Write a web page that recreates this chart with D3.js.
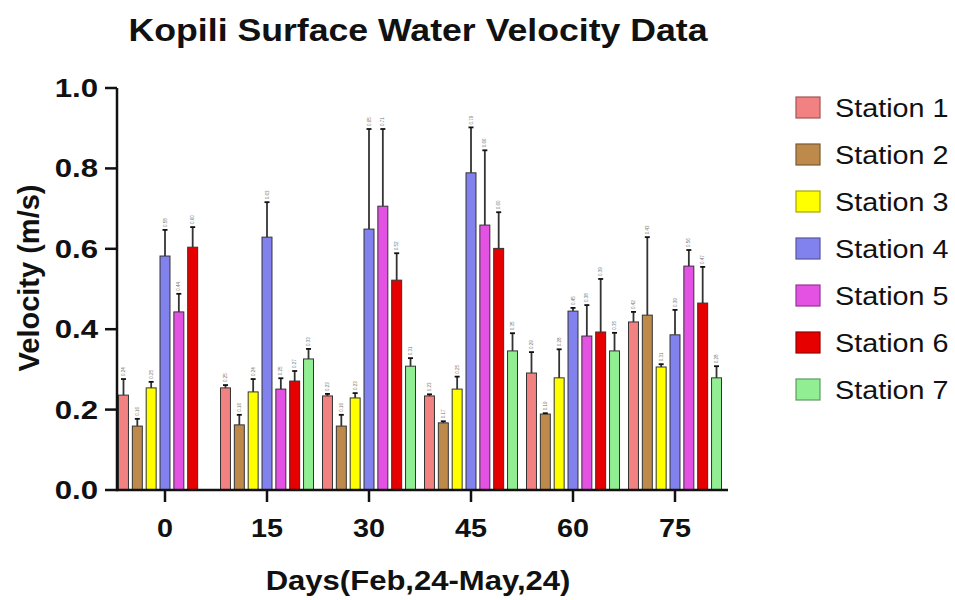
<!DOCTYPE html>
<html>
<head>
<meta charset="utf-8">
<script src="https://cdn.jsdelivr.net/npm/d3@7"></script>
<style>
  body { margin: 0; background: #fff; }
  svg text { font-family: "Liberation Sans", Arial, sans-serif; }
</style>
</head>
<body>
<div id="chart"></div>
<script>
// data (mean velocity + upper error, m/s)
const days = ["0", "15", "30", "45", "60", "75"];
const stations = ["Station 1", "Station 2", "Station 3", "Station 4", "Station 5", "Station 6", "Station 7"];
const station_colors = ["#f28282", "#bd8a4c", "#ffff00", "#8282ee", "#e452e4", "#e60000", "#92ee92"];

const means = [
  [0.236, 0.254, 0.234, 0.234, 0.291, 0.418],
  [0.159, 0.162, 0.159, 0.167, 0.189, 0.435],
  [0.254, 0.244, 0.229, 0.251, 0.279, 0.306],
  [0.582, 0.629, 0.649, 0.789, 0.445, 0.386],
  [0.443, 0.251, 0.706, 0.659, 0.383, 0.557],
  [0.604, 0.271, 0.522, 0.601, 0.393, 0.465],
  [null, 0.326, 0.308, 0.346, 0.346, 0.279],
];
const errs = [
  [0.040, 0.007, 0.005, 0.004, 0.052, 0.025],
  [0.018, 0.025, 0.028, 0.004, 0.002, 0.194],
  [0.015, 0.032, 0.012, 0.031, 0.071, 0.007],
  [0.065, 0.087, 0.249, 0.113, 0.008, 0.062],
  [0.045, 0.027, 0.192, 0.186, 0.077, 0.040],
  [0.050, 0.025, 0.067, 0.090, 0.132, 0.090],
  [null, 0.025, 0.020, 0.044, 0.045, 0.029],
];
const y_ticks = [0, 0.2, 0.4, 0.6, 0.8, 1.0];

let opts = {
  width: 955,
  height: 600,
  axis_left: 117,
  axis_right: 728,
  y_top: 88,
  y_bottom: 490,
  stretch: 1.15, // reference text looks a bit wide
};

// flatten into one row per bar
let bar_data = [];
stations.forEach((s, si) => {
  days.forEach((d, di) => {
    if (means[si][di] != null) {
      bar_data.push({ station: s, si: si, day: d, mean: means[si][di], err: errs[si][di] });
    }
  });
});

let svg = d3
  .select("#chart")
  .append("svg")
  .attr("width", opts.width)
  .attr("height", opts.height);

let x = d3.scaleBand().domain(days).range([114, 726]).padding(0);
let x_inner = d3
  .scaleBand()
  .domain(stations)
  .range([4.5, x.bandwidth() - 4.5])
  .paddingInner(0.28);
let y = d3.scaleLinear().domain([0, 1]).range([opts.y_bottom, opts.y_top]);

function wide(px, py, sx) {
  return `translate(${px},${py}) scale(${sx || opts.stretch},1)`;
}

// title
svg
  .append("text")
  .attr("transform", wide(418, 41))
  .attr("text-anchor", "middle")
  .attr("font-size", 31)
  .attr("font-weight", "bold")
  .attr("fill", "#111")
  .text("Kopili Surface Water Velocity Data");

// bars
svg
  .selectAll(".bar")
  .data(bar_data)
  .join("rect")
  .attr("class", "bar")
  .attr("x", (d) => x(d.day) + x_inner(d.station))
  .attr("y", (d) => y(d.mean))
  .attr("width", x_inner.bandwidth())
  .attr("height", (d) => y(0) - y(d.mean))
  .attr("fill", (d) => station_colors[d.si])
  .attr("stroke", "#333")
  .attr("stroke-width", 1);

// error bars (upper only)
let eb = svg.selectAll(".err").data(bar_data).join("g").attr("class", "err");
eb.append("line")
  .attr("x1", (d) => x(d.day) + x_inner(d.station) + x_inner.bandwidth() / 2)
  .attr("x2", (d) => x(d.day) + x_inner(d.station) + x_inner.bandwidth() / 2)
  .attr("y1", (d) => y(d.mean))
  .attr("y2", (d) => y(d.mean + d.err))
  .attr("stroke", "#333")
  .attr("stroke-width", 1.8);
eb.append("line")
  .attr("x1", (d) => x(d.day) + x_inner(d.station) + x_inner.bandwidth() / 2 - 2.5)
  .attr("x2", (d) => x(d.day) + x_inner(d.station) + x_inner.bandwidth() / 2 + 2.5)
  .attr("y1", (d) => y(d.mean + d.err))
  .attr("y2", (d) => y(d.mean + d.err))
  .attr("stroke", "#111")
  .attr("stroke-width", 1.8);

// tiny value labels
svg
  .selectAll(".vlab")
  .data(bar_data)
  .join("text")
  .attr("class", "vlab")
  .attr("transform", (d) => {
    let cx = x(d.day) + x_inner(d.station) + x_inner.bandwidth() / 2 + 1.5;
    let cy = y(d.mean + d.err) - 3;
    return `translate(${cx},${cy}) rotate(-90)`;
  })
  .attr("font-size", 4.5)
  .attr("fill", "#777")
  .text((d) => d.mean.toFixed(2));

// axes
let x_axis = svg.append("g");
x_axis
  .append("line")
  .attr("x1", opts.axis_left)
  .attr("x2", opts.axis_right)
  .attr("y1", y(0))
  .attr("y2", y(0))
  .attr("stroke", "#111")
  .attr("stroke-width", 2.5);
x_axis
  .selectAll(".xtick")
  .data(days)
  .join("line")
  .attr("x1", (d) => x(d) + x.bandwidth() / 2)
  .attr("x2", (d) => x(d) + x.bandwidth() / 2)
  .attr("y1", y(0))
  .attr("y2", y(0) + 12)
  .attr("stroke", "#111")
  .attr("stroke-width", 2.5);
x_axis
  .selectAll(".xlab")
  .data(days)
  .join("text")
  .attr("transform", (d) => wide(x(d) + x.bandwidth() / 2, 537))
  .attr("text-anchor", "middle")
  .attr("font-size", 25)
  .attr("font-weight", "bold")
  .attr("fill", "#111")
  .text((d) => d);

let y_axis = svg.append("g");
y_axis
  .append("line")
  .attr("x1", opts.axis_left)
  .attr("x2", opts.axis_left)
  .attr("y1", y(0) + 1.25)
  .attr("y2", y(1))
  .attr("stroke", "#111")
  .attr("stroke-width", 2.5);
y_axis
  .selectAll(".ytick")
  .data(y_ticks)
  .join("line")
  .attr("x1", opts.axis_left - 12)
  .attr("x2", opts.axis_left)
  .attr("y1", (d) => y(d))
  .attr("y2", (d) => y(d))
  .attr("stroke", "#111")
  .attr("stroke-width", 2.5);
y_axis
  .selectAll(".ylab")
  .data(y_ticks)
  .join("text")
  .attr("transform", (d) => wide(opts.axis_left - 19, y(d) + 9, 1.2))
  .attr("text-anchor", "end")
  .attr("font-size", 26)
  .attr("font-weight", "bold")
  .attr("fill", "#111")
  .text((d) => d3.format(".1f")(d));

// axis titles
svg
  .append("text")
  .attr("transform", wide(418, 590))
  .attr("text-anchor", "middle")
  .attr("font-size", 27)
  .attr("font-weight", "bold")
  .attr("fill", "#111")
  .text("Days(Feb,24-May,24)");
svg
  .append("text")
  .attr("transform", "translate(39,278) rotate(-90)")
  .attr("text-anchor", "middle")
  .attr("font-size", 29)
  .attr("font-weight", "bold")
  .attr("fill", "#111")
  .text("Velocity (m/s)");

// legend
let legend = svg
  .selectAll(".legend")
  .data(stations)
  .join("g")
  .attr("class", "legend")
  .attr("transform", (d, i) => `translate(796,${97 + i * 47})`);
legend
  .append("rect")
  .attr("width", 24)
  .attr("height", 21)
  .attr("fill", (d, i) => station_colors[i])
  .attr("stroke", (d, i) => d3.color(station_colors[i]).darker(1.2))
  .attr("stroke-width", 1.2);
legend
  .append("text")
  .attr("transform", wide(39, 20))
  .attr("font-size", 25)
  .attr("fill", "#111")
  .text((d) => d);
</script>
</body>
</html>
